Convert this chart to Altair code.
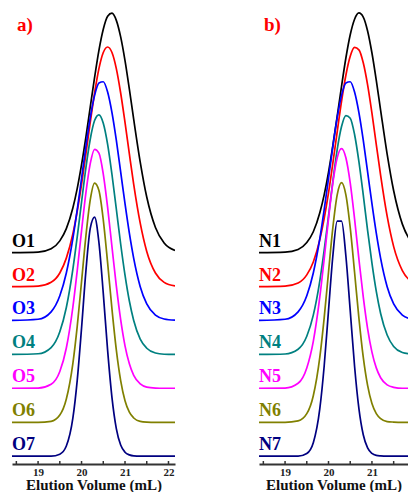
import altair as alt
import pandas as pd

# Elution volume grid (mL) shared by all traces
volume = [18.4, 19.0, 19.3, 19.5, 19.65, 19.8, 19.9, 20.0, 20.1, 20.2, 20.3, 20.4, 20.5,
          20.6, 20.7, 20.8, 20.9, 21.0, 21.1, 21.2, 21.35, 21.5, 21.7, 21.9, 22.15]

# normalised RI signal (%) read from panel a)
o1 = [0, 0.2, 1.6, 4.9, 10.0, 18.6, 26.7, 36.7, 48.2, 60.7, 73.1, 84.4, 93.2, 98.6, 99.9, 96.9, 90.0, 80.1, 68.2, 55.6, 37.8, 23.2, 10.5, 4.0, 0.9]
o2 = [0, 0.2, 1.8, 5.7, 11.9, 22.0, 31.4, 42.7, 55.4, 68.5, 80.8, 91.0, 97.7, 100, 97.7, 91.0, 80.8, 68.5, 55.4, 42.7, 26.5, 14.7, 5.7, 1.8, 0.3]
o3 = [0, 0.5, 3.6, 10.3, 19.8, 34.1, 46.1, 59.3, 72.6, 84.6, 93.9, 99.1, 99.6, 95.3, 86.7, 75.2, 62.0, 48.7, 36.4, 25.9, 14.1, 6.9, 2.2, 0.6, 0.1]
o4 = [0, 0.3, 2.9, 9.5, 19.6, 35.5, 49.0, 63.6, 77.9, 89.8, 97.6, 100, 96.5, 87.7, 75.1, 60.7, 46.1, 33.1, 22.3, 14.2, 6.4, 2.6, 0.6, 0.1, 0]
o5 = [0, 0.1, 1.7, 7.0, 16.8, 33.8, 49.0, 65.7, 81.5, 93.7, 99.7, 98.1, 89.4, 75.5, 59.0, 42.7, 28.6, 17.7, 10.2, 5.4, 1.8, 0.5, 0.1, 0, 0]
o6 = [0, 0, 0.4, 3.0, 9.7, 24.5, 39.9, 58.7, 77.7, 92.8, 99.8, 96.7, 84.5, 66.5, 47.2, 30.2, 17.4, 9.0, 4.2, 1.8, 0.4, 0.1, 0, 0, 0]
o7 = [0, 0, 0, 0.8, 4.2, 15.8, 31.5, 53.4, 77.2, 95.0, 99.7, 89.1, 67.9, 44.1, 24.4, 11.5, 4.6, 1.6, 0.5, 0.1, 0, 0, 0, 0, 0]

# normalised RI signal (%) read from panel b)
n1 = [0, 0.2, 1.3, 4.2, 8.7, 16.6, 24.1, 33.5, 44.6, 56.9, 69.4, 81.2, 90.9, 97.4, 100, 98.3, 92.5, 83.3, 71.9, 59.4, 41.1, 25.8, 11.9, 4.6, 1.1]
n2 = [0, 0.2, 1.5, 4.9, 10.3, 19.6, 28.4, 39.1, 51.5, 64.6, 77.3, 88.2, 96.1, 99.8, 98.8, 93.4, 84.2, 72.4, 59.3, 46.4, 29.4, 16.7, 6.7, 2.2, 0.4]
n3 = [0, 0.5, 3.6, 10.3, 19.8, 34.1, 46.1, 59.3, 72.6, 84.6, 93.9, 99.1, 99.6, 95.3, 86.7, 75.2, 62.0, 48.7, 36.4, 25.9, 14.1, 6.9, 2.2, 0.6, 0.1]
n4 = [0, 0.2, 2.2, 7.6, 16.4, 30.7, 43.4, 57.7, 72.3, 85.5, 95.1, 99.7, 98.6, 91.8, 80.5, 66.6, 51.8, 38.1, 26.3, 17.1, 8.1, 3.3, 0.8, 0.2, 0]
n5 = [0, 0.1, 2.1, 8.5, 19.6, 38.1, 53.9, 70.7, 85.7, 96.2, 100, 96.2, 85.7, 70.7, 53.9, 38.1, 24.9, 15.1, 8.5, 4.4, 1.4, 0.4, 0, 0, 0]
n6 = [0, 0, 0.6, 3.6, 11.1, 27.2, 43.5, 62.6, 81.2, 94.9, 100, 94.9, 81.2, 62.6, 43.5, 27.2, 15.4, 7.8, 3.6, 1.5, 0.3, 0.1, 0, 0, 0]
n7 = [0, 0, 0, 1.1, 5.6, 19.8, 37.5, 60.7, 83.5, 98.0, 98.0, 83.5, 60.7, 37.5, 19.8, 8.9, 3.4, 1.1, 0.3, 0.1, 0, 0, 0, 0, 0]

labels_a = ["O1", "O2", "O3", "O4", "O5", "O6", "O7"]
labels_b = ["N1", "N2", "N3", "N4", "N5", "N6", "N7"]
offsets = [88.2, 74.0, 59.9, 45.7, 31.6, 17.4, 3.3]   # vertical stacking offset of each trace
colors = ["#000000", "#ff0000", "#0000ff", "#008080", "#ff00ff", "#808000", "#000080"]
major_ticks_a = [19, 20, 21, 22]
major_ticks_b = [19, 20, 21]
minor_ticks = [18.5, 19, 19.5, 20, 20.5, 21, 21.5, 22]

SERIF = "Liberation Serif"
PX_PER_ML = 43.5
H = 452


def panel(tag, labels, series, x_max, tick_values):
    rows = []
    for lab, off, ys in zip(labels, offsets, series):
        for v, s in zip(volume, ys):
            rows.append({"volume": v, "signal": off + s, "sample": lab})
    df = pd.DataFrame(rows)
    lab_df = pd.DataFrame({"sample": labels, "base": offsets, "volume": [18.4] * len(labels)})
    w = round((x_max - 18.4) * PX_PER_ML)

    xscale = alt.Scale(domain=[18.4, x_max], nice=False, zero=False)
    yscale = alt.Scale(domain=[0, 188.6], nice=False, zero=False)
    cscale = alt.Scale(domain=labels, range=colors)

    lines = alt.Chart(df).mark_line(strokeWidth=1.7, interpolate="monotone", clip=True).encode(
        x=alt.X("volume:Q", scale=xscale,
                axis=alt.Axis(values=tick_values, format="d", title="Elution Volume (mL)",
                              grid=False, tickSize=0, domainColor="#333333", domainWidth=2,
                              labelFont=SERIF, labelFontSize=11, labelFontWeight="bold",
                              labelColor="#222222", labelPadding=2,
                              titleFont=SERIF, titleFontSize=15, titleFontWeight="bold",
                              titleColor="#111111", titlePadding=0)),
        y=alt.Y("signal:Q", scale=yscale, axis=None),
        color=alt.Color("sample:N", scale=cscale, legend=None),
        detail="sample:N",
    )
    texts = alt.Chart(lab_df).mark_text(
        align="left", baseline="bottom", dx=0, dy=-2, font=SERIF, fontSize=18, fontWeight="bold"
    ).encode(
        x=alt.X("volume:Q", scale=xscale),
        y=alt.Y("base:Q", scale=yscale),
        text="sample:N",
        color=alt.Color("sample:N", scale=cscale, legend=None),
    )
    ticks = alt.Chart(pd.DataFrame({"t": [t for t in minor_ticks if t <= x_max]})).mark_rule(
        color="#333333", strokeWidth=1.5
    ).encode(x=alt.X("t:Q", scale=xscale), y=alt.value(H), y2=alt.value(H - 3))
    title = alt.Chart(pd.DataFrame({"tag": [tag]})).mark_text(
        align="left", baseline="middle", font=SERIF, fontSize=19, fontWeight="bold", color="#ff0000"
    ).encode(text="tag:N", x=alt.value(5), y=alt.value(13))
    return alt.layer(lines, texts, ticks, title).properties(width=w, height=H)


a = panel("a)", labels_a, [o1, o2, o3, o4, o5, o6, o7], 22.15, major_ticks_a)
b = panel("b)", labels_b, [n1, n2, n3, n4, n5, n6, n7], 21.83, major_ticks_b)

chart = alt.hconcat(a, b, spacing=84).resolve_scale(color="independent").properties(
    padding={"left": 4, "top": 4, "right": 0, "bottom": 0}, background="white"
).configure_view(stroke=None)

chart.save("out.html", embed_options={"renderer": "svg", "actions": False})
